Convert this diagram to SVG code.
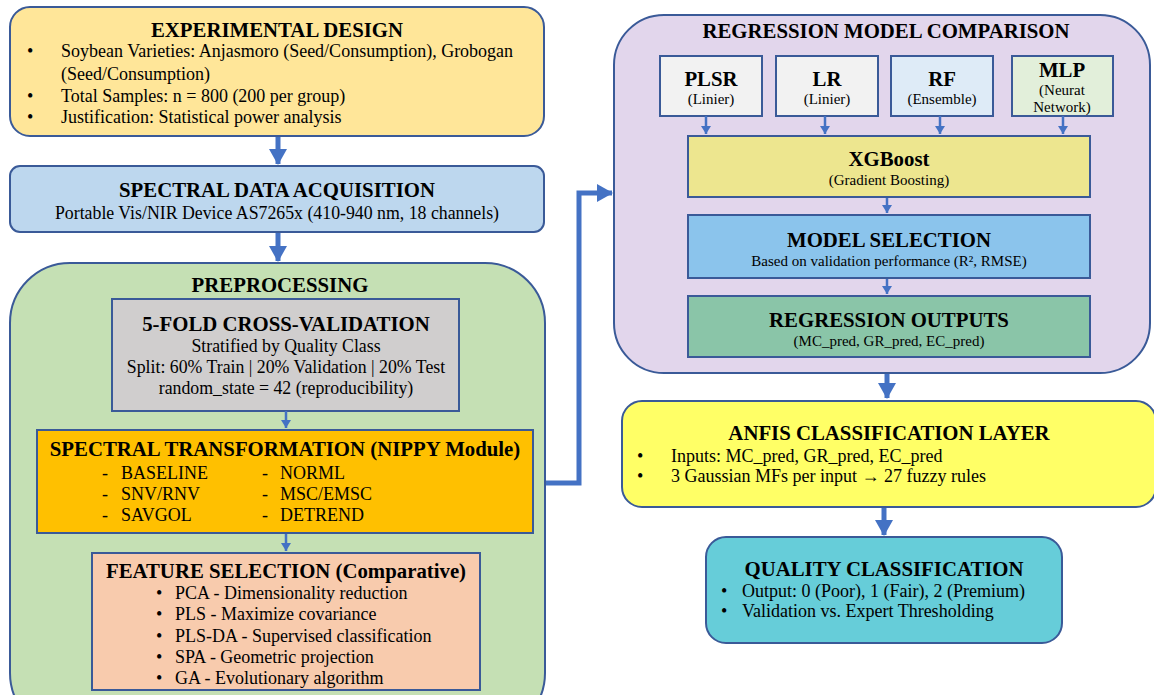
<svg xmlns="http://www.w3.org/2000/svg" width="1154" height="695" viewBox="0 0 1154 695" font-family="'Liberation Serif', 'Times New Roman', Tinos, 'DejaVu Serif', serif">
<style>
text{font-family:"Liberation Serif","Times New Roman",Tinos,"DejaVu Serif",serif;fill:#000}
.t{font-weight:bold;font-size:20.8px;text-anchor:middle}
.b{font-size:18px}
.c{font-size:17.8px;text-anchor:middle}
.s{font-size:15px;text-anchor:middle}
.box{stroke:#3a5a98;stroke-width:2}
.thin{stroke:#3a5a98;stroke-width:2}
.ar{stroke:#4472c4;stroke-width:5;fill:none}
.ars{stroke:#4472c4;stroke-width:2.5;fill:none}
</style>
<defs>
<marker id="big" markerUnits="userSpaceOnUse" markerWidth="18" markerHeight="18" refX="15" refY="9" orient="auto"><path d="M0,0L16,9L0,18z" fill="#4472c4"/></marker>
<marker id="sm" markerUnits="userSpaceOnUse" markerWidth="10" markerHeight="10" refX="8" refY="5" orient="auto"><path d="M0,0L8,5L0,10z" fill="#4472c4"/></marker>
</defs>
<rect width="1154" height="695" fill="#fff"/>

<g id="connectors">
<path class="ar" d="M278,136V164" marker-end="url(#big)"/>
<path class="ar" d="M278,232V261" marker-end="url(#big)"/>
<path class="ar" d="M545,483H579V193H612" marker-end="url(#big)"/>
<path class="ar" d="M887,373V398" marker-end="url(#big)"/>
<path class="ar" d="M884,507V535" marker-end="url(#big)"/>
</g>

<g id="experimental-design">
<rect class="box" x="10" y="7" width="534" height="129" rx="20" fill="#ffe699"/>
<text class="t" x="277" y="37">EXPERIMENTAL DESIGN</text>
<text class="b" x="27" y="57">•</text>
<text class="b" x="61" y="57">Soybean Varieties: Anjasmoro (Seed/Consumption), Grobogan</text>
<text class="b" x="61" y="80">(Seed/Consumption)</text>
<text class="b" x="27" y="102">•</text>
<text class="b" x="61" y="102">Total Samples: n = 800 (200 per group)</text>
<text class="b" x="27" y="123">•</text>
<text class="b" x="61" y="123">Justification: Statistical power analysis</text>
</g>

<g id="spectral-acquisition">
<rect class="box" x="10" y="166" width="534" height="66" rx="10" fill="#bdd7ee"/>
<text class="t" x="277" y="197">SPECTRAL DATA ACQUISITION</text>
<text class="c" x="277" y="219">Portable Vis/NIR Device AS7265x (410-940 nm, 18 channels)</text>
</g>

<g id="preprocessing">
<rect class="box" x="10" y="263" width="535" height="470" rx="60" fill="#c5e0b4"/>
<text class="t" x="280" y="292">PREPROCESSING</text>
</g>

<g id="cross-validation">
<rect class="thin" x="112" y="299" width="347" height="112" fill="#d0cece"/>
<text class="t" x="286" y="331">5-FOLD CROSS-VALIDATION</text>
<text class="c" x="286" y="352">Stratified by Quality Class</text>
<text class="c" x="286" y="373">Split: 60% Train | 20% Validation | 20% Test</text>
<text class="c" x="286" y="394">random_state = 42 (reproducibility)</text>
</g>

<g id="connectors-inner">
<path class="ars" d="M286,411V428" marker-end="url(#sm)"/>
<path class="ars" d="M286,533V551" marker-end="url(#sm)"/>
</g>

<g id="spectral-transformation">
<rect class="thin" x="37" y="430" width="496" height="103" fill="#ffc000"/>
<text class="t" x="285" y="456">SPECTRAL TRANSFORMATION (NIPPY Module)</text>
<text class="b" x="102" y="479">-</text><text class="b" x="121" y="479">BASELINE</text>
<text class="b" x="102" y="500">-</text><text class="b" x="121" y="500">SNV/RNV</text>
<text class="b" x="102" y="521">-</text><text class="b" x="121" y="521">SAVGOL</text>
<text class="b" x="262" y="479">-</text><text class="b" x="280" y="479">NORML</text>
<text class="b" x="262" y="500">-</text><text class="b" x="280" y="500">MSC/EMSC</text>
<text class="b" x="262" y="521">-</text><text class="b" x="280" y="521">DETREND</text>
</g>

<g id="feature-selection">
<rect class="thin" x="92" y="553" width="388" height="137" fill="#f8cbad"/>
<text class="t" x="286" y="578">FEATURE SELECTION (Comparative)</text>
<text class="b" x="156" y="599">•</text><text class="b" x="175" y="599">PCA - Dimensionality reduction</text>
<text class="b" x="156" y="620">•</text><text class="b" x="175" y="620">PLS - Maximize covariance</text>
<text class="b" x="156" y="642">•</text><text class="b" x="175" y="642">PLS-DA - Supervised classification</text>
<text class="b" x="156" y="663">•</text><text class="b" x="175" y="663">SPA - Geometric projection</text>
<text class="b" x="156" y="684">•</text><text class="b" x="175" y="684">GA - Evolutionary algorithm</text>
</g>

<g id="regression-comparison">
<rect class="box" x="614" y="15" width="536" height="358" rx="50" fill="#e2d6ec"/>
<text class="t" x="886" y="38">REGRESSION MODEL COMPARISON</text>
</g>

<g id="plsr">
<rect class="thin" x="660" y="56" width="102" height="60" fill="#f2f2f2"/>
<text class="t" x="711" y="86">PLSR</text>
<text class="s" x="711" y="104">(Linier)</text>
</g>
<g id="lr">
<rect class="thin" x="776" y="56" width="102" height="60" fill="#f2f2f2"/>
<text class="t" x="827" y="86">LR</text>
<text class="s" x="827" y="104">(Linier)</text>
</g>
<g id="rf">
<rect class="thin" x="891" y="56" width="102" height="60" fill="#deebf7"/>
<text class="t" x="942" y="86">RF</text>
<text class="s" x="942" y="104">(Ensemble)</text>
</g>
<g id="mlp">
<rect class="thin" x="1012" y="56" width="101" height="60" fill="#e2efda"/>
<text class="t" x="1062" y="77">MLP</text>
<text class="s" x="1062" y="95">(Neurat</text>
<text class="s" x="1062" y="112">Network)</text>
</g>

<g id="connectors-reg">
<path class="ars" d="M706,116V134" marker-end="url(#sm)"/>
<path class="ars" d="M825,116V134" marker-end="url(#sm)"/>
<path class="ars" d="M940,116V134" marker-end="url(#sm)"/>
<path class="ars" d="M1063,116V134" marker-end="url(#sm)"/>
<path class="ars" d="M887,197V213" marker-end="url(#sm)"/>
<path class="ars" d="M887,278V294" marker-end="url(#sm)"/>
</g>

<g id="xgboost">
<rect class="thin" x="688" y="136" width="402" height="61" fill="#ede68f"/>
<text class="t" x="889" y="166">XGBoost</text>
<text class="s" x="889" y="185">(Gradient Boosting)</text>
</g>

<g id="model-selection">
<rect class="thin" x="688" y="215" width="402" height="63" fill="#8bc4ec"/>
<text class="t" x="889" y="247">MODEL SELECTION</text>
<text class="s" x="889" y="266">Based on validation performance (R², RMSE)</text>
</g>

<g id="regression-outputs">
<rect class="thin" x="688" y="296" width="402" height="61" fill="#8ac5a8"/>
<text class="t" x="889" y="327">REGRESSION OUTPUTS</text>
<text class="s" x="889" y="346">(MC_pred, GR_pred, EC_pred)</text>
</g>

<g id="anfis">
<rect class="box" x="622" y="401" width="534" height="106" rx="20" fill="#ffff66"/>
<text class="t" x="889" y="440">ANFIS CLASSIFICATION LAYER</text>
<text class="b" x="637" y="462">•</text><text class="b" x="671" y="462">Inputs: MC_pred, GR_pred, EC_pred</text>
<text class="b" x="637" y="482">•</text><text class="b" x="671" y="482">3 Gaussian MFs per input → 27 fuzzy rules</text>
</g>

<g id="quality-classification">
<rect class="box" x="706" y="537" width="356" height="106" rx="20" fill="#66cdd9"/>
<text class="t" x="884" y="576">QUALITY CLASSIFICATION</text>
<text class="b" x="721" y="597">•</text><text class="b" x="742" y="597">Output: 0 (Poor), 1 (Fair), 2 (Premium)</text>
<text class="b" x="721" y="617">•</text><text class="b" x="742" y="617">Validation vs. Expert Thresholding</text>
</g>
</svg>
